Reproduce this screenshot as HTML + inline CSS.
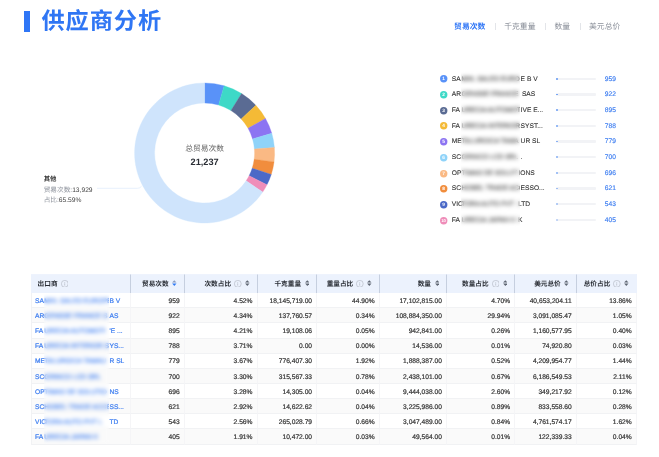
<!DOCTYPE html>
<html lang="zh-CN">
<head>
<meta charset="utf-8">
<title>供应商分析</title>
<style>
*{box-sizing:border-box;margin:0;padding:0}
html,body{width:659px;height:457px;background:#fff;overflow:hidden}
body{font-family:"Liberation Sans","Noto Sans CJK SC",sans-serif;position:relative;color:#333;-webkit-font-smoothing:antialiased;text-rendering:geometricPrecision}
.page{position:absolute;left:0;top:0;width:659px;height:457px;will-change:transform}
.tbar{position:absolute;left:23.5px;top:11px;width:6px;height:21.4px;background:#2f76f6}
h1{position:absolute;left:41.5px;top:10px;width:120.64px;height:23.2px}
h1 .t{position:absolute;left:0;top:0;font-family:"Liberation Sans","Noto Sans CJK SC",sans-serif;font-size:23.2px;line-height:23.2px;letter-spacing:0.93px;font-weight:bold;color:#2f76f4;white-space:nowrap}
.tabs{position:absolute;left:444.6px;top:18.8px;height:15px;display:flex;font-size:7.8px;line-height:15px;color:#8a8f99;white-space:nowrap}
.tabs span{padding:0 9.5px;position:relative}
.tabs span+span:before{content:"";position:absolute;left:0;top:4px;width:1px;height:7px;background:#e3e5e9}
.tabs .on{color:#2f76f6;font-weight:bold}
.chart{position:absolute;left:0;top:0;width:659px;height:270px}
.ctitle{position:absolute;left:154.6px;width:100px;top:142.5px;text-align:center;font-size:7.75px;line-height:11px;color:#666}
.cval{position:absolute;left:154.6px;width:100px;top:156.2px;text-align:center;font-size:9.2px;line-height:12px;font-weight:bold;color:#2b2f36}
.plabel{position:absolute;left:43.7px;font-size:6.67px;line-height:10px;height:10px;color:#8a8f99;white-space:nowrap}
.plabel b{color:#333;font-weight:bold;font-size:6.4px}
.plabel em{font-style:normal;color:#444}
.lrow{position:absolute;left:439.5px;width:190px;height:14px;font-size:6.67px;line-height:14px;white-space:nowrap}
.badge{position:absolute;left:0.7px;top:3px;width:7.4px;height:7.4px;overflow:visible}
.lname{position:absolute;left:12.3px;top:0.2px;color:#333}
.lname,.lblur,.ltail{-webkit-text-stroke:0.1px #333}
.lblur{position:absolute;left:22px;top:0.2px;width:58.6px;overflow:hidden;color:#333}
.ltail{position:absolute;left:81.1px;top:0.2px;color:#333}
.blur{filter:none;opacity:1}
.bar{position:absolute;left:116.6px;top:5.2px;width:39.5px;height:2.2px;background:#f2f3f6;border-radius:1px}
.bar i{position:absolute;left:0;top:0.2px;width:1.7px;height:1.8px;border-radius:1px;background:#6297f3}
.lval{position:absolute;left:165.3px;top:0.1px;color:#3b7cf0;-webkit-text-stroke:0.15px #3b7cf0}
table{position:absolute;left:30.6px;top:273.6px;width:606.3px;border-collapse:separate;border-spacing:0;table-layout:fixed;font-size:6.67px}
th{height:19.1px;background:#ecf2fd;border-right:1px solid #c6cfdf;border-top:1px solid #eef3fd;padding:0;font-weight:bold;color:#2b2f36;white-space:nowrap;vertical-align:top}
th div{display:flex;align-items:center;justify-content:flex-end;height:17.6px;padding-right:7px;line-height:10px}
th.first div{justify-content:flex-start;padding-left:7px}
th span{position:relative;top:1.4px}
th:last-child{border-right-color:#ecf2fd}
td{height:15.15px;border-bottom:1px solid #f1f2f4;border-right:1px solid #f5f5f7;text-align:right;padding:2.2px 4.2px 0 0;color:#333;white-space:nowrap;overflow:hidden;line-height:9px;-webkit-text-stroke:0.2px #333}
tbody tr:first-child td{height:15.65px;padding-top:2.7px}
td.first{text-align:left;padding-left:3.4px;border-left:1px solid #f1f2f4}
td a{color:#3b7cf0;-webkit-text-stroke:0.2px #3b7cf0;display:block;height:9px}
.tp,.tb,.tt{display:inline-block;vertical-align:top;height:9px;line-height:9px}
.tp{width:9.3px}
.tt{margin-left:0.5px}
.tb{width:64.7px;overflow:hidden}
td .blur{filter:none;opacity:1}
.strip{position:absolute;backdrop-filter:blur(2.1px);-webkit-backdrop-filter:blur(2.1px)}
tr.odd td{background:#fafafa}
.info{width:7.6px;height:7.6px;margin-left:3.1px;margin-right:-0.1px;position:relative;top:-0.1px;flex:none}
.sort{width:4.6px;height:6.13px;margin-left:3.6px;position:relative;top:0.1px;flex:none}
.info+.sort{margin-left:3.4px}
</style>
</head>
<body>
<div class="page">
<div class="tbar"></div>
<h1><span class="t">供应商分析</span></h1>
<div class="tabs"><span class="on">贸易次数</span><span>千克重量</span><span>数量</span><span>美元总价</span></div>
<svg class="chart" viewBox="0 0 659 270">
<path d="M204.60 83.00A70.0 70.0 0 0 1 224.20 85.80L218.60 105.00A50.0 50.0 0 0 0 204.60 103.00Z" fill="#5992F8" stroke="#5992F8" stroke-width="0.35" stroke-linejoin="round"/>
<path d="M224.20 85.80A70.0 70.0 0 0 1 241.58 93.56L231.01 110.54A50.0 50.0 0 0 0 218.60 105.00Z" fill="#3ED9C7" stroke="#3ED9C7" stroke-width="0.35" stroke-linejoin="round"/>
<path d="M241.58 93.56A70.0 70.0 0 0 1 255.84 105.31L241.20 118.94A50.0 50.0 0 0 0 231.01 110.54Z" fill="#5A6B93" stroke="#5A6B93" stroke-width="0.35" stroke-linejoin="round"/>
<path d="M255.84 105.31A70.0 70.0 0 0 1 265.47 118.44L248.08 128.31A50.0 50.0 0 0 0 241.20 118.94Z" fill="#F4BA36" stroke="#F4BA36" stroke-width="0.35" stroke-linejoin="round"/>
<path d="M265.47 118.44A70.0 70.0 0 0 1 271.76 133.26L252.57 138.90A50.0 50.0 0 0 0 248.08 128.31Z" fill="#8C74F2" stroke="#8C74F2" stroke-width="0.35" stroke-linejoin="round"/>
<path d="M271.76 133.26A70.0 70.0 0 0 1 274.38 147.49L254.44 149.07A50.0 50.0 0 0 0 252.57 138.90Z" fill="#8FD3F9" stroke="#8FD3F9" stroke-width="0.35" stroke-linejoin="round"/>
<path d="M274.38 147.49A70.0 70.0 0 0 1 274.03 161.88L254.20 159.34A50.0 50.0 0 0 0 254.44 149.07Z" fill="#FAB984" stroke="#FAB984" stroke-width="0.35" stroke-linejoin="round"/>
<path d="M274.03 161.88A70.0 70.0 0 0 1 271.24 174.41L252.20 168.29A50.0 50.0 0 0 0 254.20 159.34Z" fill="#F18D3D" stroke="#F18D3D" stroke-width="0.35" stroke-linejoin="round"/>
<path d="M271.24 174.41A70.0 70.0 0 0 1 266.96 184.80L249.14 175.71A50.0 50.0 0 0 0 252.20 168.29Z" fill="#4B69C7" stroke="#4B69C7" stroke-width="0.35" stroke-linejoin="round"/>
<path d="M266.96 184.80A70.0 70.0 0 0 1 262.71 192.02L246.11 180.87A50.0 50.0 0 0 0 249.14 175.71Z" fill="#EF8DB9" stroke="#EF8DB9" stroke-width="0.35" stroke-linejoin="round"/>
<path d="M262.71 192.02A70.0 70.0 0 1 1 204.60 83.00L204.60 103.00A50.0 50.0 0 1 0 246.11 180.87Z" fill="#CFE4FC" stroke="#CFE4FC" stroke-width="0.35" stroke-linejoin="round"/>
<path d="M97 188.3H137.5Q140 188.3 141.5 186.3" fill="none" stroke="#dde9fa" stroke-width="0.7"/>
</svg>
<div class="ctitle">总贸易次数</div>
<div class="cval">21,237</div>
<div class="plabel" style="top:174.7px"><b>其他</b></div>
<div class="plabel" style="top:185.5px">贸易次数:<em>13,929</em></div>
<div class="plabel" style="top:195.5px">占比:<em>65.59%</em></div>
<div class="lrow" style="top:72.45px">
<svg class="badge" viewBox="0 0 74 74"><circle cx="37" cy="37" r="37" fill="#5992F8"/><text x="37" y="54.5" font-size="48" text-anchor="middle" fill="#fff" font-weight="bold" font-family="Liberation Sans, sans-serif">1</text></svg><span class="lname">SA</span><span class="lblur blur">MHL SALES EUROPE</span><span class="ltail" style="margin-left:0px">E B V</span>
<span class="bar"><i style="opacity:1.00"></i></span><span class="lval">959</span></div>
<div class="lrow" style="top:88.13px">
<svg class="badge" viewBox="0 0 74 74"><circle cx="37" cy="37" r="37" fill="#3ED9C7"/><text x="37" y="54.5" font-size="48" text-anchor="middle" fill="#fff" font-weight="bold" font-family="Liberation Sans, sans-serif">2</text></svg><span class="lname">AR</span><span class="lblur blur">GENSSE FRANCE</span><span class="ltail" style="margin-left:1.3px">SAS</span>
<span class="bar"><i style="opacity:0.98"></i></span><span class="lval">922</span></div>
<div class="lrow" style="top:103.81px">
<svg class="badge" viewBox="0 0 74 74"><circle cx="37" cy="37" r="37" fill="#5A6B93"/><text x="37" y="54.5" font-size="48" text-anchor="middle" fill="#fff" font-weight="bold" font-family="Liberation Sans, sans-serif">3</text></svg><span class="lname">FA</span><span class="lblur blur">URECIA AUTOMOT</span><span class="ltail" style="margin-left:0px">IVE E...</span>
<span class="bar"><i style="opacity:0.95"></i></span><span class="lval">895</span></div>
<div class="lrow" style="top:119.49px">
<svg class="badge" viewBox="0 0 74 74"><circle cx="37" cy="37" r="37" fill="#F4BA36"/><text x="37" y="54.5" font-size="48" text-anchor="middle" fill="#fff" font-weight="bold" font-family="Liberation Sans, sans-serif">4</text></svg><span class="lname">FA</span><span class="lblur blur">URECIA INTERIOR </span><span class="ltail" style="margin-left:0px">SYST...</span>
<span class="bar"><i style="opacity:0.84"></i></span><span class="lval">788</span></div>
<div class="lrow" style="top:135.17px">
<svg class="badge" viewBox="0 0 74 74"><circle cx="37" cy="37" r="37" fill="#8C74F2"/><text x="37" y="54.5" font-size="48" text-anchor="middle" fill="#fff" font-weight="bold" font-family="Liberation Sans, sans-serif">5</text></svg><span class="lname">ME</span><span class="lblur blur">TALURGICA TAMA</span><span class="ltail" style="margin-left:0px">UR SL</span>
<span class="bar"><i style="opacity:0.83"></i></span><span class="lval">779</span></div>
<div class="lrow" style="top:150.85px">
<svg class="badge" viewBox="0 0 74 74"><circle cx="37" cy="37" r="37" fill="#8FD3F9"/><text x="37" y="54.5" font-size="48" text-anchor="middle" fill="#fff" font-weight="bold" font-family="Liberation Sans, sans-serif">6</text></svg><span class="lname">SC</span><span class="lblur blur"> GRINCO LCD SRL</span><span class="ltail" style="margin-left:0px">.</span>
<span class="bar"><i style="opacity:0.74"></i></span><span class="lval">700</span></div>
<div class="lrow" style="top:166.53px">
<svg class="badge" viewBox="0 0 74 74"><circle cx="37" cy="37" r="37" fill="#FAB984"/><text x="37" y="54.5" font-size="48" text-anchor="middle" fill="#fff" font-weight="bold" font-family="Liberation Sans, sans-serif">7</text></svg><span class="lname">OP</span><span class="lblur blur">TIMAS DE SOLUT</span><span class="ltail" style="margin-left:-2.2px">IONS</span>
<span class="bar"><i style="opacity:0.74"></i></span><span class="lval">696</span></div>
<div class="lrow" style="top:182.21px">
<svg class="badge" viewBox="0 0 74 74"><circle cx="37" cy="37" r="37" fill="#F18D3D"/><text x="37" y="54.5" font-size="48" text-anchor="middle" fill="#fff" font-weight="bold" font-family="Liberation Sans, sans-serif">8</text></svg><span class="lname">SC</span><span class="lblur blur">HOBEL TRADE ACC</span><span class="ltail" style="margin-left:0px">ESSO...</span>
<span class="bar"><i style="opacity:0.66"></i></span><span class="lval">621</span></div>
<div class="lrow" style="top:197.89px">
<svg class="badge" viewBox="0 0 74 74"><circle cx="37" cy="37" r="37" fill="#4B69C7"/><text x="37" y="54.5" font-size="48" text-anchor="middle" fill="#fff" font-weight="bold" font-family="Liberation Sans, sans-serif">9</text></svg><span class="lname">VIC</span><span class="lblur blur">TORA AUTO PVT </span><span class="ltail" style="margin-left:-2.6px">LTD</span>
<span class="bar"><i style="opacity:0.58"></i></span><span class="lval">543</span></div>
<div class="lrow" style="top:213.57px">
<svg class="badge" viewBox="0 0 74 74"><circle cx="37" cy="37" r="37" fill="#EF8DB9"/><text x="36" y="54.5" font-size="42" text-anchor="middle" fill="#fff" font-weight="bold" font-family="Liberation Sans, sans-serif" letter-spacing="-3">10</text></svg><span class="lname">FA</span><span class="lblur blur">URECIA JAPAN K</span><span class="ltail" style="margin-left:-2.6px">K</span>
<span class="bar"><i style="opacity:0.43"></i></span><span class="lval">405</span></div>
<table>
<colgroup><col style="width:100.1px"><col style="width:54.2px"><col style="width:72.8px"><col style="width:59.6px"><col style="width:62.6px"><col style="width:67.3px"><col style="width:68.1px"><col style="width:61.7px"><col style="width:59.9px"></colgroup>
<thead><tr><th class="first"><div><span>出口商</span><svg class="info" viewBox="0 0 12 12"><circle cx="6" cy="6" r="5.4" fill="none" stroke="#aeb3bd" stroke-width="0.95"/><rect x="5.5" y="5.2" width="1" height="3.6" fill="#aeb3bd"/><rect x="5.5" y="3.1" width="1" height="1.2" fill="#aeb3bd"/></svg></div></th><th class=""><div><span>贸易次数</span><svg class="sort" viewBox="0 0 9 12"><path d="M4.5 0.3L8.8 4.9H0.2Z" fill="#8a9cc0"/><path d="M4.5 11.7L8.8 7.1H0.2Z" fill="#2f7af5"/></svg></div></th><th class=""><div><span>次数占比</span><svg class="info" viewBox="0 0 12 12"><circle cx="6" cy="6" r="5.4" fill="none" stroke="#aeb3bd" stroke-width="0.95"/><rect x="5.5" y="5.2" width="1" height="3.6" fill="#aeb3bd"/><rect x="5.5" y="3.1" width="1" height="1.2" fill="#aeb3bd"/></svg><svg class="sort" viewBox="0 0 9 12"><path d="M4.5 0.3L8.8 4.9H0.2Z" fill="#5f6673"/><path d="M4.5 11.7L8.8 7.1H0.2Z" fill="#5f6673"/></svg></div></th><th class=""><div><span>千克重量</span><svg class="sort" viewBox="0 0 9 12"><path d="M4.5 0.3L8.8 4.9H0.2Z" fill="#5f6673"/><path d="M4.5 11.7L8.8 7.1H0.2Z" fill="#5f6673"/></svg></div></th><th class=""><div><span>重量占比</span><svg class="info" viewBox="0 0 12 12"><circle cx="6" cy="6" r="5.4" fill="none" stroke="#aeb3bd" stroke-width="0.95"/><rect x="5.5" y="5.2" width="1" height="3.6" fill="#aeb3bd"/><rect x="5.5" y="3.1" width="1" height="1.2" fill="#aeb3bd"/></svg><svg class="sort" viewBox="0 0 9 12"><path d="M4.5 0.3L8.8 4.9H0.2Z" fill="#5f6673"/><path d="M4.5 11.7L8.8 7.1H0.2Z" fill="#5f6673"/></svg></div></th><th class=""><div><span>数量</span><svg class="sort" viewBox="0 0 9 12"><path d="M4.5 0.3L8.8 4.9H0.2Z" fill="#5f6673"/><path d="M4.5 11.7L8.8 7.1H0.2Z" fill="#5f6673"/></svg></div></th><th class=""><div><span>数量占比</span><svg class="info" viewBox="0 0 12 12"><circle cx="6" cy="6" r="5.4" fill="none" stroke="#aeb3bd" stroke-width="0.95"/><rect x="5.5" y="5.2" width="1" height="3.6" fill="#aeb3bd"/><rect x="5.5" y="3.1" width="1" height="1.2" fill="#aeb3bd"/></svg><svg class="sort" viewBox="0 0 9 12"><path d="M4.5 0.3L8.8 4.9H0.2Z" fill="#5f6673"/><path d="M4.5 11.7L8.8 7.1H0.2Z" fill="#5f6673"/></svg></div></th><th class=""><div><span>美元总价</span><svg class="sort" viewBox="0 0 9 12"><path d="M4.5 0.3L8.8 4.9H0.2Z" fill="#5f6673"/><path d="M4.5 11.7L8.8 7.1H0.2Z" fill="#5f6673"/></svg></div></th><th class=""><div><span>总价占比</span><svg class="info" viewBox="0 0 12 12"><circle cx="6" cy="6" r="5.4" fill="none" stroke="#aeb3bd" stroke-width="0.95"/><rect x="5.5" y="5.2" width="1" height="3.6" fill="#aeb3bd"/><rect x="5.5" y="3.1" width="1" height="1.2" fill="#aeb3bd"/></svg><svg class="sort" viewBox="0 0 9 12"><path d="M4.5 0.3L8.8 4.9H0.2Z" fill="#5f6673"/><path d="M4.5 11.7L8.8 7.1H0.2Z" fill="#5f6673"/></svg></div></th></tr></thead>
<tbody>
<tr class=""><td class="first"><a><span class="tp">SA</span><span class="tb blur">MHL SALES EUROPE </span><span class="tt">B V</span></a></td><td>959</td><td>4.52%</td><td>18,145,719.00</td><td>44.90%</td><td>17,102,815.00</td><td>4.70%</td><td>40,653,204.11</td><td>13.86%</td></tr>
<tr class="odd"><td class="first"><a><span class="tp">AR</span><span class="tb blur">GENSSE FRANCE S</span><span class="tt">AS</span></a></td><td>922</td><td>4.34%</td><td>137,760.57</td><td>0.34%</td><td>108,884,350.00</td><td>29.94%</td><td>3,091,085.47</td><td>1.05%</td></tr>
<tr class=""><td class="first"><a><span class="tp">FA</span><span class="tb blur">URECIA AUTOMOTI</span><span class="tt">'E ...</span></a></td><td>895</td><td>4.21%</td><td>19,108.06</td><td>0.05%</td><td>942,841.00</td><td>0.26%</td><td>1,160,577.95</td><td>0.40%</td></tr>
<tr class="odd"><td class="first"><a><span class="tp">FA</span><span class="tb blur">URECIA INTERIOR S</span><span class="tt">YS...</span></a></td><td>788</td><td>3.71%</td><td>0.00</td><td>0.00%</td><td>14,536.00</td><td>0.01%</td><td>74,920.80</td><td>0.03%</td></tr>
<tr class=""><td class="first"><a><span class="tp">ME</span><span class="tb blur">TALURGICA TAMAU</span><span class="tt">R SL</span></a></td><td>779</td><td>3.67%</td><td>776,407.30</td><td>1.92%</td><td>1,888,387.00</td><td>0.52%</td><td>4,209,954.77</td><td>1.44%</td></tr>
<tr class="odd"><td class="first"><a><span class="tp">SC</span><span class="tb blur"> GRINCO LCD SRL</span><span class="tt"></span></a></td><td>700</td><td>3.30%</td><td>315,567.33</td><td>0.78%</td><td>2,438,101.00</td><td>0.67%</td><td>6,186,549.53</td><td>2.11%</td></tr>
<tr class=""><td class="first"><a><span class="tp">OP</span><span class="tb blur">TIMAS DE SOLUTIO</span><span class="tt">NS</span></a></td><td>696</td><td>3.28%</td><td>14,305.00</td><td>0.04%</td><td>9,444,038.00</td><td>2.60%</td><td>349,217.92</td><td>0.12%</td></tr>
<tr class="odd"><td class="first"><a><span class="tp">SC</span><span class="tb blur">HOBEL TRADE ACCE</span><span class="tt">SS...</span></a></td><td>621</td><td>2.92%</td><td>14,622.62</td><td>0.04%</td><td>3,225,986.00</td><td>0.89%</td><td>833,558.60</td><td>0.28%</td></tr>
<tr class=""><td class="first"><a><span class="tp">VIC</span><span class="tb blur">TORA AUTO PVT L</span><span class="tt">TD</span></a></td><td>543</td><td>2.56%</td><td>265,028.79</td><td>0.66%</td><td>3,047,489.00</td><td>0.84%</td><td>4,761,574.17</td><td>1.62%</td></tr>
<tr class="odd"><td class="first"><a><span class="tp">FA</span><span class="tb blur">URECIA JAPAN K</span><span class="tt"></span></a></td><td>405</td><td>1.91%</td><td>10,472.00</td><td>0.03%</td><td>49,564.00</td><td>0.01%</td><td>122,339.33</td><td>0.04%</td></tr>
</tbody>
</table>
<div class="strip" style="left:44.2px;top:293.2px;width:64.7px;height:151px"></div>
<div class="strip" style="left:461.3px;top:71px;width:59.3px;height:157px"></div>
</div>
</body>
</html>
